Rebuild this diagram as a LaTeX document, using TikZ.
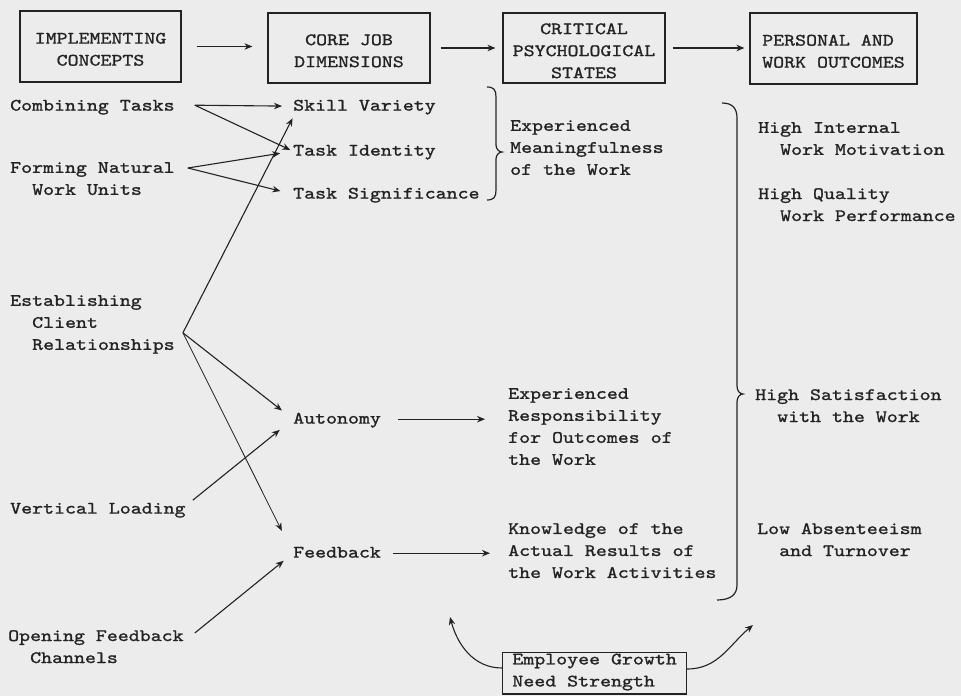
\documentclass[tikz,border=0pt]{standalone}
\usepackage{fontspec}
\newfontfamily\tw{lmmono10-regular}[Extension=.otf, FakeStretch=1.2, FakeBold=1.2]
\usetikzlibrary{arrows.meta,calc}
\definecolor{bg}{RGB}{236,236,236}
\definecolor{ink}{RGB}{35,35,35}
\newcommand\ind{\hspace*{22pt}}
\newcommand\twfont{\tw\fontsize{17.4}{22}\selectfont}
\begin{document}
\begin{tikzpicture}[x=1pt,y=-1pt,
  lbl/.style={anchor=north west, inner sep=0pt, align=left,
    font=\twfont, text=ink, execute at begin node=\strut},
  hbox/.style={draw=ink, line width=1.2pt, inner sep=0pt, align=center,
    font=\twfont, text=ink,
    execute at begin node=\strut, execute at end node=\strut},
  headbox/.style={draw=ink, line width=1.2pt, inner sep=0pt},
  boxtxt/.style={inner sep=0pt, align=center, font=\twfont, text=ink,
    execute at begin node=\strut, execute at end node=\strut},
  arr/.style={draw=ink, line width=1.1pt, -{Stealth[length=8pt,width=6.5pt]}},
  brc/.style={draw=ink, line width=1.2pt}
]
\fill[bg] (0,0) rectangle (961,696);
\useasboundingbox (0,0) rectangle (961,696);

% header boxes
\node[headbox, minimum width=161pt, minimum height=71pt] (impl) at (100.5,46.5) {};
\node[headbox, minimum width=162pt, minimum height=70pt] (core) at (349,48) {};
\node[headbox, minimum width=162pt, minimum height=70pt] (crit) at (584,48) {};
\node[headbox, minimum width=167pt, minimum height=71pt] (outc) at (833.5,48.5) {};
\node[boxtxt] (implT) at ($(impl.center)+(0,6)$) {IMPLEMENTING\\CONCEPTS};
\node[boxtxt] (coreT) at ($(core.center)+(0,6)$) {CORE JOB\\DIMENSIONS};
\node[boxtxt] (critT) at ($(crit.center)+(0,6)$) {CRITICAL\\PSYCHOLOGICAL\\STATES};
\node[boxtxt, align=left] (outcT) at ($(outc.center)+(0,6)$) {PERSONAL AND\\WORK OUTCOMES};

% implementing concepts
\node[lbl] (comb) at (10,95) {Combining Tasks};
\node[lbl] (form) at (10,162) {Forming Natural\\\ind Work Units};
\node[lbl] (estab) at (10,295) {Establishing\\\ind Client\\\ind Relationships};
\node[lbl] (vert) at (10,498) {Vertical Loading};
\node[lbl] (open) at (8,630) {Opening Feedback\\\ind Channels};

% core job dimensions
\node[lbl] (skill) at (293,95) {Skill Variety};
\node[lbl] (ident) at (293,140) {Task Identity};
\node[lbl] (signif) at (293,183) {Task Significance};
\node[lbl] (auton) at (293,408) {Autonomy};
\node[lbl] (feed) at (293,542) {Feedback};

% critical psychological states
\node[lbl] (mean) at (510,120) {Experienced\\Meaningfulness\\of the Work};
\node[lbl] (resp) at (508,388) {Experienced\\Responsibility\\for Outcomes of\\the Work};
\node[lbl] (know) at (508,523) {Knowledge of the\\Actual Results of\\the Work Activities};

% outcomes
\node[lbl] (motiv) at (758,122) {High Internal\\\ind Work Motivation};
\node[lbl] (qual) at (758,188) {High Quality\\\ind Work Performance};
\node[lbl] (satis) at (755,389) {High Satisfaction\\\ind with the Work};
\node[lbl] (absent) at (757,523) {Low Absenteeism\\\ind and Turnover};

% moderator
\node[hbox, anchor=north west, align=left, inner xsep=4pt, inner ysep=1pt, minimum width=184pt] (growth) at (502,652) {Employee Growth\\Need Strength};

% branch points
\coordinate (combA) at ($(comb.east)+(20,-1)$);
\coordinate (formA) at ($(form.north east)+(13,6)$);
\coordinate (estabA) at ($(estab.east)+(8,7)$);
\coordinate (vertA) at ($(vert.east)+(7,-9)$);
\coordinate (openA) at ($(open.north east)+(11,3)$);
\coordinate (tipL) at (450,617);
\coordinate (tipR) at (753,625);

% header arrows
\draw[arr, shorten <=15pt, shorten >=15pt] (impl.east) -- (impl.east -| core.west);
\draw[arr, shorten <=10pt, shorten >=7pt] (core.east) -- (core.east -| crit.west);
\draw[arr, shorten <=7pt, shorten >=5pt] (crit.east) -- (crit.east -| outc.west);

% concept arrows
\draw[arr, shorten >=11pt] (combA) -- (skill.west);
\draw[arr, shorten >=3pt] (combA) -- (ident.west);
\draw[arr, shorten >=13pt] (formA) -- (ident.west);
\draw[arr, shorten >=13pt] (formA) -- (signif.west);
\draw[arr, shorten >=1pt] (estabA) -- (skill.south west);
\draw[arr, shorten >=14pt] (estabA) -- (auton.west);
\draw[arr, line width=0.8pt, shorten >=25pt] (estabA) -- (feed.west);
\draw[arr, shorten >=17pt] (vertA) -- (auton.west);
\draw[arr, shorten >=12pt] (openA) -- (feed.west);

% dimension -> state arrows
\draw[arr, shorten <=17pt, shorten >=23pt] (auton.east) -- (auton.east -| resp.west);
\draw[arr, shorten <=12pt, shorten >=18pt] (feed.east) -- (feed.east -| know.west);

% moderator arrows
\draw[arr] ($(growth.north west)+(0,16)$) to[out=180,in=-75] (tipL);
\draw[arr] ($(growth.north east)+(0,17)$) to[out=0,in=-140] (tipR);

% braces
\draw[brc] (487,87) .. controls (494,87) and (496,90) .. (496,97) -- (496,145)
  .. controls (496,149) and (499,152) .. (502,152)
  .. controls (499,152) and (496,155) .. (496,159) -- (496,190)
  .. controls (496,197) and (494,200) .. (487,200);
\draw[brc] (722,103) .. controls (732,103) and (737,108) .. (737,118) -- (737,386)
  .. controls (737,391) and (740,394) .. (743,394)
  .. controls (740,394) and (737,397) .. (737,402) -- (737,585)
  .. controls (737,595) and (730,600) .. (717,600);
\end{tikzpicture}
\end{document}
